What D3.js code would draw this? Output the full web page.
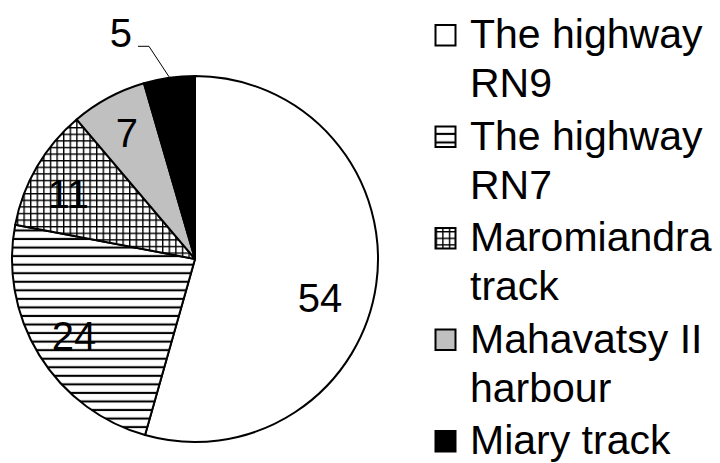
<!DOCTYPE html>
<html>
<head>
<meta charset="utf-8">
<script src="https://cdn.jsdelivr.net/npm/d3@7"></script>
<style>
  html, body { margin: 0; padding: 0; background: #fff; }
  svg { display: block; }
  text { font-family: "Liberation Sans", Arial, Helvetica, sans-serif; fill: #000; }
</style>
</head>
<body>
<svg id="chart" width="720" height="463"></svg>
<script>
// ---- data ----
const categories = ["The highway RN9", "The highway RN7", "Maromiandra track", "Mahavatsy II harbour", "Miary track"];
const legendLines = [["The highway", "RN9"], ["The highway", "RN7"], ["Maromiandra", "track"], ["Mahavatsy II", "harbour"], ["Miary track"]];
// slice shares (percent)
const values = [54.4, 23.6, 10.8, 6.7, 4.5];
// data labels as printed on the chart
const labels = ["54", "24", "11", "7", "5"];
const fills = ["#ffffff", "url(#hlines)", "url(#grid)", "#c0c0c0", "#000000"];

// ---- layout ----
const W = 720, H = 463;
const cx = 195, cy = 259, R = 183;
const labelFont = 40, legendFont = 41;

const svg = d3.select("#chart");
const defs = svg.append("defs");

// horizontal lines pattern
const hp = defs.append("pattern").attr("id", "hlines")
  .attr("patternUnits", "userSpaceOnUse").attr("width", 20).attr("height", 8.55);
hp.append("rect").attr("width", 20).attr("height", 8.55).attr("fill", "#fff");
hp.append("rect").attr("x", 0).attr("y", 4.6).attr("width", 20).attr("height", 2.1).attr("fill", "#000");

// grid pattern
const gp = defs.append("pattern").attr("id", "grid")
  .attr("patternUnits", "userSpaceOnUse").attr("width", 6.6).attr("height", 6.6);
gp.append("rect").attr("width", 6.6).attr("height", 6.6).attr("fill", "#fff");
gp.append("rect").attr("x", 0).attr("y", 0).attr("width", 6.6).attr("height", 1.4).attr("fill", "#000");
gp.append("rect").attr("x", 0).attr("y", 0).attr("width", 1.4).attr("height", 6.6).attr("fill", "#000");

const pie = d3.pie().sort(null).value(d => d);
const arcs = pie(values);
const arc = d3.arc().innerRadius(0).outerRadius(R);

const g = svg.append("g").attr("transform", `translate(${cx},${cy})`);
g.selectAll("path.slice").data(arcs).enter().append("path")
  .attr("class", "slice")
  .attr("d", arc)
  .attr("fill", (d, i) => fills[i])
  .attr("stroke", "#000")
  .attr("stroke-width", 2)
  .attr("stroke-linejoin", "round");

// label placement: radius and angle shift (radians) per slice
const labelRadius = [131, 143, 143, 144, 238];
const labelShift = [0.164, -0.009, -0.048, 0, -0.175];
function polar(r, a) { return [r * Math.sin(a), -r * Math.cos(a)]; }

arcs.forEach((d, i) => {
  const mid = (d.startAngle + d.endAngle) / 2;
  const [lx, ly] = polar(labelRadius[i], mid + labelShift[i]);
  g.append("text")
    .attr("x", lx).attr("y", ly + 14.5)
    .attr("text-anchor", "middle")
    .attr("font-size", labelFont)
    .text(labels[i]);
  if (i === 4) {
    const [ex, ey] = polar(R + 1, mid);
    const tx = lx + 17, ty = ly + 13.5;
    g.append("polyline")
      .attr("points", [[tx, ty], [tx + 11, ty], [ex, ey]].map(p => p.join(",")).join(" "))
      .attr("fill", "none").attr("stroke", "#000").attr("stroke-width", 1);
  }
});

// legend
const legX = 435.5, textX = 470;
const baseY0 = 48, itemStep = 101.5, lineStep = 49;
const leg = svg.append("g");
legendLines.forEach((lines, i) => {
  const by = baseY0 + i * itemStep;
  leg.append("rect")
    .attr("x", legX).attr("y", by - 23)
    .attr("width", 20).attr("height", 20.5)
    .attr("fill", fills[i])
    .attr("stroke", "#000").attr("stroke-width", 2);
  lines.forEach((t, j) => {
    leg.append("text")
      .attr("x", textX).attr("y", by + j * lineStep)
      .attr("font-size", legendFont)
      .text(t);
  });
});
</script>
</body>
</html>
